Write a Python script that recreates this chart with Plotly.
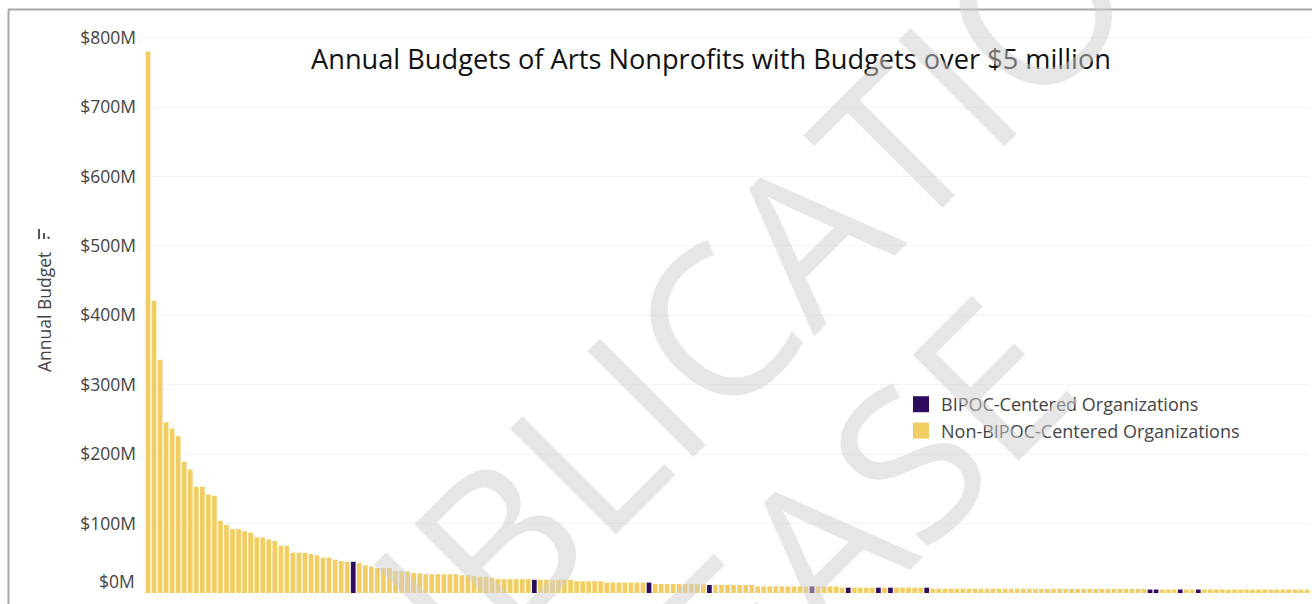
import plotly.graph_objects as go

# Annual budget (in $ millions) of each organization, ranked largest to smallest
budget_millions = [
    780, 421, 336, 246, 237, 226, 189, 178, 153, 153,
    142, 140, 104, 98, 92, 92, 89, 87, 80, 80,
    77, 75, 68, 68, 58, 58, 58, 56, 54, 51,
    51, 48, 46, 45, 45, 43, 40, 38, 36, 36,
    36, 32, 31, 31, 29, 28.5, 27, 27, 27, 27,
    27, 27, 25.5, 25.5, 24.5, 23.5, 23.5, 22, 20, 20,
    20, 20, 20, 20, 19, 19, 19, 19, 19, 19,
    19, 17, 17, 17, 17, 17, 15, 15, 15, 15,
    15, 15, 15, 15, 13, 13, 13, 13, 13, 13,
    13, 13, 13, 11.5, 11.5, 11.5, 11.5, 11.5, 11.5, 11.5,
    11.5, 9.5, 9.5, 9.5, 9.5, 9.5, 9.5, 9.5, 9.5, 9.5,
    9.5, 9.5, 9.5, 9.5, 9.5, 7.7, 7.7, 7.7, 7.7, 7.7,
    7.7, 7.7, 7.7, 7.7, 7.7, 7.7, 7.7, 7.7, 7.7, 7.7,
    6.2, 6.2, 6.2, 6.2, 6.2, 6.2, 6.2, 6.2, 6.2, 6.2,
    6.2, 6.2, 6.2, 6.2, 6.2, 6.2, 5.8, 5.8, 5.8, 5.8,
    5.8, 5.8, 5.8, 5.8, 5.8, 5.8, 5.8, 5.8, 5.8, 5.8,
    5.8, 5.8, 5.8, 5.8, 5.8, 5.8, 5.0, 5.0, 5.0, 5.0,
    5.0, 5.0, 5.0, 5.0, 5.0, 5.0, 5.0, 5.0, 5.0, 5.0,
    5.0, 5.0, 5.0, 5.0, 5.0, 5.0, 5.0, 5.0, 5.0, 5.0,
    5.0, 5.0, 5.0,
]

# Ranks (1-based) of the BIPOC-centered organizations
bipoc_ranks = [35, 65, 84, 94, 111, 117, 122, 124, 130, 167, 168, 172, 175]

tick_values = [100, 200, 300, 400, 500, 600, 700, 800]
tick_labels = ["$100M", "$200M", "$300M", "$400M", "$500M", "$600M", "$700M", "$800M"]

PURPLE = "#2E0B5C"
YELLOW = "#F2CD63"
TEXT = "#444444"
WATERMARK = "rgba(205,205,205,0.5)"

ranks = list(range(1, len(budget_millions) + 1))
bipoc_set = set(bipoc_ranks)
bx = [r for r in ranks if r in bipoc_set]
by = [budget_millions[r - 1] for r in bx]
nx = [r for r in ranks if r not in bipoc_set]
ny = [budget_millions[r - 1] for r in nx]

# page geometry (pixels)
W, H = 1312, 604
ML, MR, MT, MB = 145, 2, 20, 11
PW, PH = W - ML - MR, H - MT - MB


def px_x(p):
    return (p - ML) / PW


def px_y(p):
    return (H - MB - p) / PH


fig = go.Figure()
fig.add_trace(go.Bar(x=bx, y=by, name="BIPOC-Centered Organizations", showlegend=False,
                     marker=dict(color=PURPLE, line=dict(width=0))))
fig.add_trace(go.Bar(x=nx, y=ny, name="Non-BIPOC-Centered Organizations", showlegend=False,
                     marker=dict(color=YELLOW, line=dict(width=0))))
# legend keys (square swatches)
for label, colour in [("BIPOC-Centered Organizations", PURPLE),
                      ("Non-BIPOC-Centered Organizations", YELLOW)]:
    fig.add_trace(go.Scatter(x=[None], y=[None], mode="markers", name=label,
                             marker=dict(symbol="square", size=16, color=colour)))

wm_font = dict(family="Open Sans", size=210, color=WATERMARK)
annotations = [
    # y-axis title
    dict(text="Annual Budget", x=px_x(44), y=px_y(312), xref="paper", yref="paper",
         textangle=-90, showarrow=False, font=dict(family="Open Sans", size=17.5, color=TEXT),
         xanchor="center", yanchor="middle"),
    # zero label
    dict(text="$0M", x=0, y=0, xref="paper", yref="y", xanchor="right", yanchor="middle",
         xshift=-8, yshift=12, showarrow=False,
         font=dict(family="Open Sans", size=17.5, color=TEXT)),
    # watermark
    dict(text="PUBLICATION", x=px_x(726), y=px_y(310), xref="paper", yref="paper",
         textangle=-45, showarrow=False, xanchor="center", yanchor="middle", font=wm_font),
    dict(text="RELEASE", x=px_x(733), y=px_y(632), xref="paper", yref="paper",
         textangle=-45, showarrow=False, xanchor="center", yanchor="middle", font=wm_font),
]

border = dict(color="#A8A8A8", width=2)
icon = dict(color="#555555", width=2)
shapes = [
    dict(type="line", xref="paper", yref="paper", x0=px_x(8), x1=px_x(1312),
         y0=px_y(9.5), y1=px_y(9.5), line=border),
    dict(type="line", xref="paper", yref="paper", x0=px_x(8.5), x1=px_x(8.5),
         y0=px_y(9.5), y1=px_y(604), line=border),
    # sort indicator next to the axis title
    dict(type="line", xref="paper", yref="paper", x0=px_x(39), x1=px_x(39),
         y0=px_y(239), y1=px_y(229), line=icon),
    dict(type="line", xref="paper", yref="paper", x0=px_x(44), x1=px_x(44),
         y0=px_y(239), y1=px_y(233), line=icon),
    dict(type="line", xref="paper", yref="paper", x0=px_x(48.5), x1=px_x(48.5),
         y0=px_y(239), y1=px_y(236.5), line=icon),
]

fig.update_layout(
    width=W, height=H,
    margin=dict(l=ML, r=MR, t=MT, b=MB),
    paper_bgcolor="white", plot_bgcolor="white",
    barmode="overlay", bargap=0.22,
    title=dict(text="Annual Budgets of Arts Nonprofits with Budgets over $5 million",
               x=711 / W, xanchor="center",
               y=1 - 59 / H, yanchor="middle",
               font=dict(family="Open Sans", size=27.2, color="#111111")),
    xaxis=dict(range=[0.5, len(budget_millions) + 0.5], showticklabels=False,
               showgrid=False, zeroline=False, showline=False, ticks=""),
    yaxis=dict(range=[0, (H - MB - MT) / ((H - MB - 37.7) / 800)],
               tickvals=tick_values, ticktext=tick_labels, ticks="",
               ticklabelstandoff=8,
               tickfont=dict(family="Open Sans", size=17.5, color=TEXT),
               showgrid=True, gridcolor="#F4F4F4", zeroline=False, showline=False),
    legend=dict(x=px_x(901), y=px_y(386), xanchor="left", yanchor="top",
                font=dict(family="Open Sans", size=18, color=TEXT),
                bgcolor="rgba(0,0,0,0)", tracegroupgap=0, itemclick=False,
                itemsizing="trace"),
    annotations=annotations,
    shapes=shapes,
    showlegend=True,
)

fig.write_html("out.html")
